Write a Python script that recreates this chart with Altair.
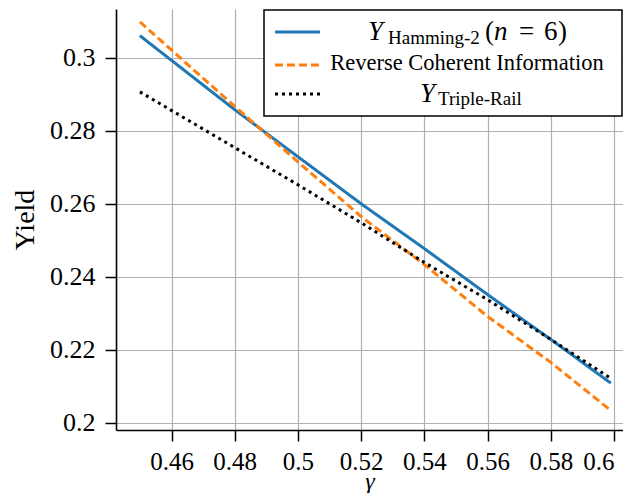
import altair as alt
import pandas as pd

# ---- data ----
gamma = [0.45, 0.48, 0.50, 0.52, 0.54, 0.56, 0.58, 0.599]
y_hamming = [0.3061, 0.2858, 0.2729, 0.2600, 0.2477, 0.2351, 0.2228, 0.2108]
y_rci = [0.3099, 0.2867, 0.2715, 0.2565, 0.2433, 0.2291, 0.2165, 0.2033]
y_triple = [0.2907, 0.2754, 0.2652, 0.2548, 0.2439, 0.2337, 0.2228, 0.2121]

x_ticks = [0.46, 0.48, 0.50, 0.52, 0.54, 0.56, 0.58, 0.60]
y_ticks = [0.20, 0.22, 0.24, 0.26, 0.28, 0.30]

series_names = ["Hamming-2", "RCI", "Triple-Rail"]
series_colors = ["#1f77b4", "#ff7f0e", "#000000"]
series_dash = [[1, 0], [8, 4], [3, 4]]

FONT = "Liberation Serif"
W, H = 507, 421
x_dom = [0.44244, 0.602847]
y_dom = [0.19795, 0.31342]

x_axis = alt.Axis(values=x_ticks, format=".2~f", title="γ", titleFont=FONT,
                  titleFontStyle="italic", titleFontSize=24, titleFontWeight="normal",
                  titleColor="black", titleY=58, titleBaseline="alphabetic",
                  labelFont=FONT, labelFontSize=25, labelColor="black", labelPadding=8,
                  labelFlush=10, tickSize=11, tickWidth=1.5, tickColor="black",
                  domainColor="black", domainWidth=1.6, grid=True,
                  gridColor="#b0b0b0", gridWidth=1.2)
y_axis = alt.Axis(values=y_ticks, format=".2~f", title="Yield", titleFont=FONT,
                  titleFontSize=28, titleFontWeight="normal", titleColor="black",
                  titleX=-83, titleBaseline="alphabetic",
                  labelFont=FONT, labelFontSize=26, labelColor="black", labelPadding=10,
                  labelFlush=False, tickSize=11, tickWidth=1.5, tickColor="black",
                  domainColor="black", domainWidth=1.6, grid=True,
                  gridColor="#b0b0b0", gridWidth=1.2)

rows = []
for name, ys in zip(series_names, [y_hamming, y_rci, y_triple]):
    for g, v in zip(gamma, ys):
        rows.append({"gamma": g, "yield": v, "series": name})
df = pd.DataFrame(rows)

enc_x = alt.X("gamma:Q", scale=alt.Scale(domain=x_dom, nice=False, zero=False), axis=x_axis)
enc_y = alt.Y("yield:Q", scale=alt.Scale(domain=y_dom, nice=False, zero=False), axis=y_axis)

layers = []
for i, name in enumerate(series_names):
    layers.append(
        alt.Chart(df).transform_filter(alt.datum.series == name)
        .mark_line(color=series_colors[i], strokeWidth=3,
                   strokeDash=series_dash[i], strokeCap="butt", clip=True)
        .encode(x=enc_x, y=enc_y)
    )

# ---- legend (drawn manually to allow sub-scripts and centered labels) ----
one = pd.DataFrame({"d": [0]})
base = alt.Chart(one)
layers.append(base.mark_rect(fill="white", stroke="black", strokeWidth=1.5).encode(
    x=alt.value(148), x2=alt.value(506), y=alt.value(1), y2=alt.value(107)))
for i, yy in enumerate([23, 56, 85]):
    layers.append(base.mark_rule(color=series_colors[i], strokeWidth=3,
                                 strokeDash=series_dash[i], strokeCap="butt").encode(
        x=alt.value(159), x2=alt.value(204), y=alt.value(yy)))


def txt(t, x, y, size, italic=False, align="left"):
    kw = dict(text=t, font=FONT, fontSize=size, align=align,
              baseline="alphabetic", color="black")
    if italic:
        kw["fontStyle"] = "italic"
    return base.mark_text(**kw).encode(x=alt.value(x), y=alt.value(y))


layers += [
    txt("Y", 252, 31, 27, italic=True),
    txt("Hamming-2", 272, 35, 19),
    txt("(", 369, 31, 27),
    txt("n", 378, 31, 27, italic=True),
    txt("=", 403, 31, 27),
    txt("6", 428, 31, 27),
    txt(")", 442, 31, 27),
    txt("Reverse Coherent Information", 351, 61, 22.5, align="center"),
    txt("Y", 304, 93, 27, italic=True),
    txt("Triple-Rail", 322, 96, 19),
]

chart = alt.layer(*layers).properties(
    width=W, height=H,
    padding={"left": 108, "top": 1, "right": 0, "bottom": 63},
    autosize=alt.AutoSizeParams(type="none"),
).configure_view(stroke=None)

chart.save("out.html", embed_options={"renderer": "svg", "actions": False})
